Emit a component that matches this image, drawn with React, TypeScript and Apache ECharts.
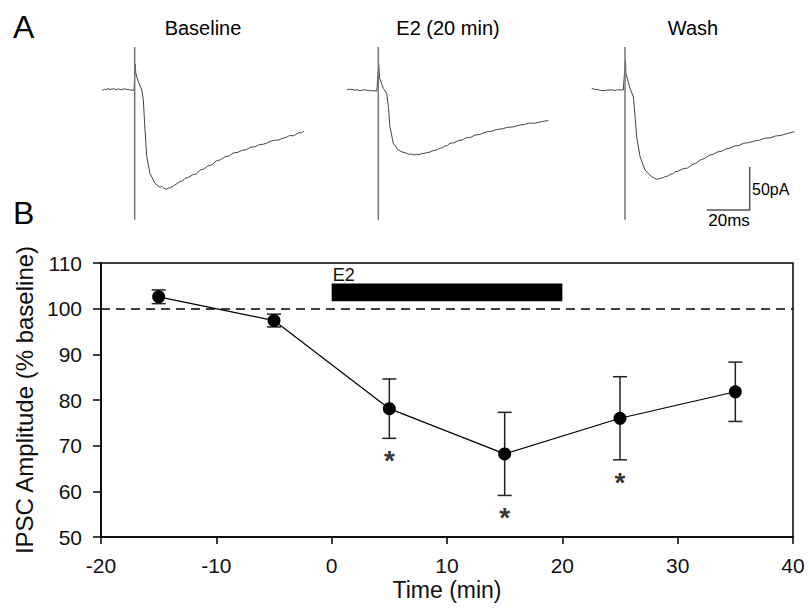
import React, { useEffect, useRef } from "react";
import * as echarts from "echarts";

// ---- Panel A: example IPSC traces (time in ms relative to stimulus, current in pA) ----
const TRACE_TITLES = ["Baseline", "E2 (20 min)", "Wash"];

const BASELINE_TRACE: number[][] = [
  [-15.2, -0.8], [-14.2, 0.9], [-13.5, 0.4], [-12.4, 1.6], [-11.5, 0.6], [-9.8, 1.5], [-8.8, 0.5], [-7.8, 1.2], [-6, 0.2],
  [-5, 1.4], [-4, 0.9], [-2, 0], [-0.3, -0.3],
  [0.2, 30], [0.5, 19.8], [1.7, 9.7], [3.3, 0], [4.0, -11.6], [4.8, -46.5], [5.6, -77.6], [7.1, -96.9], [9.4, -108.5],
  [11.8, -113.4], [12.6, -112], [13.5, -114.2], [14.9, -115.5], [15.8, -114], [16.8, -113.5], [18.7, -110.5], [21, -106.5],
  [22.2, -106], [23.4, -102.7], [25, -101.5], [27, -98.5], [28.8, -97.5], [30.4, -93], [32, -92], [34, -88.5], [36, -86.8],
  [38, -82.5], [40, -81], [42, -77.5], [44, -76.5], [45.7, -73.3], [48, -72.5], [50, -70], [52, -69.2], [54, -66.5],
  [56, -66], [58, -63.5], [60, -63], [61.5, -61.6], [63, -59.8], [65, -58.5], [67, -58], [69, -56], [70.5, -55],
  [72, -53], [74, -53.2], [75, -51.5], [76.5, -49.5], [77.5, -50], [78.7, -47.7],
];

const E2_TRACE: number[][] = [
  [-14.7, 0], [-13.8, 0.9], [-13, 0.8], [-11.8, 0.6], [-10.8, -0.3], [-10, 0.4], [-8.5, -0.8], [-7.4, 0], [-6.5, 0.2],
  [-4.8, -0.3], [-3.6, -0.9], [-2.5, -0.8], [-0.7, -1.2],
  [0.2, 30], [0.6, 14], [2.3, 2], [3.9, -3.8], [4.7, -19.4], [5.4, -42.7], [7.0, -62], [9.3, -69.8], [11, -72],
  [13.2, -73.6], [14.2, -74.8], [15.5, -74.5], [16.6, -75.6], [17.8, -74.8], [19, -75.2], [20, -74], [21.2, -73.8],
  [22.5, -72.9], [24, -72.2], [25.5, -70.5], [27, -69.8], [28.6, -67.8], [30, -67], [31, -65], [32.2, -64.5],
  [33.3, -62], [35, -61.5], [37, -59], [39, -58.2], [41, -55.5], [43, -55], [45, -52.5], [47.5, -51.5], [50.4, -48.5],
  [52.5, -48], [55, -46], [57.5, -45.2], [60, -43.5], [63, -42.8], [65.9, -40.7], [68, -40.2], [70, -38.5],
  [72.5, -38.6], [75, -37.5], [77, -36.2], [79.1, -35.7],
];

const WASH_TRACE: number[][] = [
  [-15.5, 2], [-14.6, 1.2], [-14, 0.8], [-12.6, 0.6], [-11.8, -0.3], [-11, -0.5], [-9.3, -0.8], [-8.2, 0.2], [-7, -0.2],
  [-6, 0.4], [-5.1, -0.6], [-3, 0.3], [-0.8, 0],
  [0.2, 35], [0.4, 19.4], [2.3, 2], [3.9, -7.8], [4.7, -31], [5.4, -54.3], [7.0, -77.6], [9.3, -93], [11, -97.5],
  [12.4, -100.8], [13.6, -102.5], [14.7, -103.8], [15.6, -103.2], [16.5, -102.8], [17.6, -102], [18.6, -100.8],
  [19.8, -100.2], [21, -98], [22.2, -97.6], [23.3, -95], [25, -94.2], [27, -91.5], [29, -90.8], [31, -87.2],
  [33, -85], [35, -81.5], [37, -79.5], [39.5, -75.6], [41, -74.8], [43, -72], [45, -71.2], [47, -68.5], [49, -67.5],
  [51, -65], [53, -64.5], [55, -62], [57.5, -61.2], [60, -59.5], [62.5, -58.4], [65, -56], [67.5, -55.6], [70, -53.5],
  [72.5, -52.8], [75, -51], [77, -49.6], [78.8, -48.5],
];

const ARTIFACT_TOP = 50;
const ARTIFACT_BOTTOM = -151;

const SCALE_MS = 20;
const SCALE_PA = 50;
const SCALE_CORNER = [58, -139.5];

// ---- Panel B: summary time course ----
const TIME = [-15, -5, 5, 15, 25, 35];
const MEAN = [102.6, 97.4, 78.1, 68.2, 76.0, 81.8];
const SEM = [1.5, 1.4, 6.5, 9.1, 9.1, 6.5];
const SIGNIFICANT = [false, false, true, true, true, false];

const X_TICKS = [-20, -10, 0, 10, 20, 30, 40];
const Y_TICKS = [50, 60, 70, 80, 90, 100, 110];

const E2_START = 0;
const E2_END = 20;
const E2_BAR_LOW = 101.6;
const E2_BAR_HIGH = 105.5;
const BASELINE_LEVEL = 100;

const FONT = "'Liberation Sans', Arial, Helvetica, sans-serif";

export default function App() {
  const ref = useRef<HTMLDivElement | null>(null);

  useEffect(() => {
    if (!ref.current) return;
    const chart = echarts.init(ref.current, undefined, { renderer: "svg" });

    const traces = [BASELINE_TRACE, E2_TRACE, WASH_TRACE];
    const traceLefts = [100.3, 343.9, 590.6];
    const traceGrids = traceLefts.map((left) => ({
      left,
      top: 38.4,
      width: 206.4,
      height: 189.2,
      show: false,
    }));
    const traceX = traceLefts.map((_, i) => ({
      type: "value",
      gridIndex: i,
      min: -16,
      max: 80,
      show: false,
    }));
    const traceY = traceLefts.map((_, i) => ({
      type: "value",
      gridIndex: i,
      min: -160,
      max: 60,
      show: false,
    }));

    const traceSeries: any[] = [];
    traces.forEach((tr, i) => {
      traceSeries.push({
        type: "line",
        xAxisIndex: i,
        yAxisIndex: i,
        data: tr,
        symbol: "none",
        silent: true,
        lineStyle: { color: "#444", width: 1 },
      });
      traceSeries.push({
        type: "line",
        xAxisIndex: i,
        yAxisIndex: i,
        data: [
          [0, ARTIFACT_TOP],
          [0, ARTIFACT_BOTTOM],
        ],
        symbol: "none",
        silent: true,
        lineStyle: { color: "#777", width: 1.5 },
      });
    });
    traceSeries.push({
      type: "line",
      xAxisIndex: 2,
      yAxisIndex: 2,
      data: [
        [SCALE_CORNER[0] - SCALE_MS, SCALE_CORNER[1]],
        [SCALE_CORNER[0], SCALE_CORNER[1]],
        [SCALE_CORNER[0], SCALE_CORNER[1] + SCALE_PA],
      ],
      symbol: "none",
      silent: true,
      lineStyle: { color: "#555", width: 1.5 },
    });

    const axisText = { color: "#111", fontFamily: FONT, fontSize: 21 };

    const option: any = {
      animation: false,
      grid: [
        ...traceGrids,
        {
          left: 101,
          top: 263,
          right: 16,
          bottom: 76,
          show: true,
          borderColor: "#000",
          borderWidth: 1.5,
          backgroundColor: "transparent",
        },
      ],
      xAxis: [
        ...traceX,
        {
          type: "value",
          gridIndex: 3,
          min: X_TICKS[0],
          max: X_TICKS[X_TICKS.length - 1],
          interval: 10,
          name: "Time (min)",
          nameLocation: "middle",
          nameGap: 41,
          nameTextStyle: { color: "#111", fontFamily: FONT, fontSize: 23 },
          axisLine: { onZero: false, lineStyle: { color: "#000", width: 1.5 } },
          axisTick: { show: true, inside: false, length: 7, lineStyle: { color: "#000", width: 1.5 } },
          axisLabel: { ...axisText, margin: 18 },
          splitLine: { show: false },
        },
      ],
      yAxis: [
        ...traceY,
        {
          type: "value",
          gridIndex: 3,
          min: Y_TICKS[0],
          max: Y_TICKS[Y_TICKS.length - 1],
          interval: 10,
          name: "IPSC Amplitude (% baseline)",
          nameLocation: "middle",
          nameGap: 64,
          nameTextStyle: { color: "#111", fontFamily: FONT, fontSize: 24 },
          axisLine: { onZero: false, lineStyle: { color: "#000", width: 1.5 } },
          axisTick: { show: true, inside: false, length: 8, lineStyle: { color: "#000", width: 1.5 } },
          axisLabel: { ...axisText, margin: 19 },
          splitLine: { show: false },
        },
      ],
      series: [
        ...traceSeries,
        {
          type: "custom",
          xAxisIndex: 3,
          yAxisIndex: 3,
          silent: true,
          data: TIME.map((t, i) => [t, MEAN[i] - SEM[i], MEAN[i] + SEM[i]]),
          renderItem: (params: any, api: any) => {
            const x = api.value(0);
            const lo = api.coord([x, api.value(1)]);
            const hi = api.coord([x, api.value(2)]);
            const hw = 7;
            const style = { stroke: "#222", lineWidth: 1.5 };
            return {
              type: "group",
              children: [
                { type: "line", shape: { x1: lo[0], y1: lo[1], x2: hi[0], y2: hi[1] }, style },
                { type: "line", shape: { x1: hi[0] - hw, y1: hi[1], x2: hi[0] + hw, y2: hi[1] }, style },
                { type: "line", shape: { x1: lo[0] - hw, y1: lo[1], x2: lo[0] + hw, y2: lo[1] }, style },
              ],
            };
          },
          z: 2,
        },
        {
          type: "line",
          xAxisIndex: 3,
          yAxisIndex: 3,
          data: TIME.map((t, i) => [t, MEAN[i]]),
          symbol: "circle",
          symbolSize: 13,
          itemStyle: { color: "#000" },
          lineStyle: { color: "#000", width: 1.2 },
          silent: true,
          z: 3,
          markLine: {
            silent: true,
            symbol: "none",
            label: { show: false },
            lineStyle: { color: "#000", width: 1.5, type: [9, 6] },
            data: [{ yAxis: BASELINE_LEVEL }],
          },
          markArea: {
            silent: true,
            itemStyle: { color: "#000" },
            label: {
              show: true,
              position: [1, -18],
              color: "#111",
              fontFamily: FONT,
              fontSize: 18,
              align: "left",
              verticalAlign: "top",
            },
            data: [
              [
                { name: "E2", coord: [E2_START, E2_BAR_HIGH] },
                { coord: [E2_END, E2_BAR_LOW] },
              ],
            ],
          },
        },
        {
          type: "scatter",
          xAxisIndex: 3,
          yAxisIndex: 3,
          silent: true,
          symbolSize: 1,
          itemStyle: { color: "rgba(0,0,0,0)" },
          data: TIME.map((t, i) => (SIGNIFICANT[i] ? [t, MEAN[i] - SEM[i]] : null)).filter((d) => d !== null),
          label: {
            show: true,
            formatter: "*",
            position: "bottom",
            distance: 8,
            color: "#000",
            fontFamily: FONT,
            fontSize: 28,
            fontWeight: "bold",
          },
        },
      ],
      graphic: [
        { type: "text", left: 13, top: 11, style: { text: "A", fontFamily: FONT, fontSize: 32, fill: "#000" } },
        { type: "text", left: 13, top: 197, style: { text: "B", fontFamily: FONT, fontSize: 32, fill: "#000" } },
        ...TRACE_TITLES.map((t, i) => ({
          type: "text",
          x: [203, 448, 693][i],
          y: 28,
          style: {
            text: t,
            fontFamily: FONT,
            fontSize: 20,
            fill: "#000",
            textAlign: "center",
            textVerticalAlign: "middle",
          },
        })),
        {
          type: "text",
          x: 752,
          y: 189,
          style: { text: "50pA", fontFamily: FONT, fontSize: 16, fill: "#000", textAlign: "left", textVerticalAlign: "middle" },
        },
        {
          type: "text",
          x: 729,
          y: 220,
          style: { text: "20ms", fontFamily: FONT, fontSize: 17, fill: "#000", textAlign: "center", textVerticalAlign: "middle" },
        },
      ],
    };

    chart.setOption(option);
    return () => chart.dispose();
  }, []);

  return (
    <div
      ref={ref}
      style={{ position: "fixed", left: 0, top: 0, width: 809, height: 613, background: "#fff" }}
    />
  );
}
